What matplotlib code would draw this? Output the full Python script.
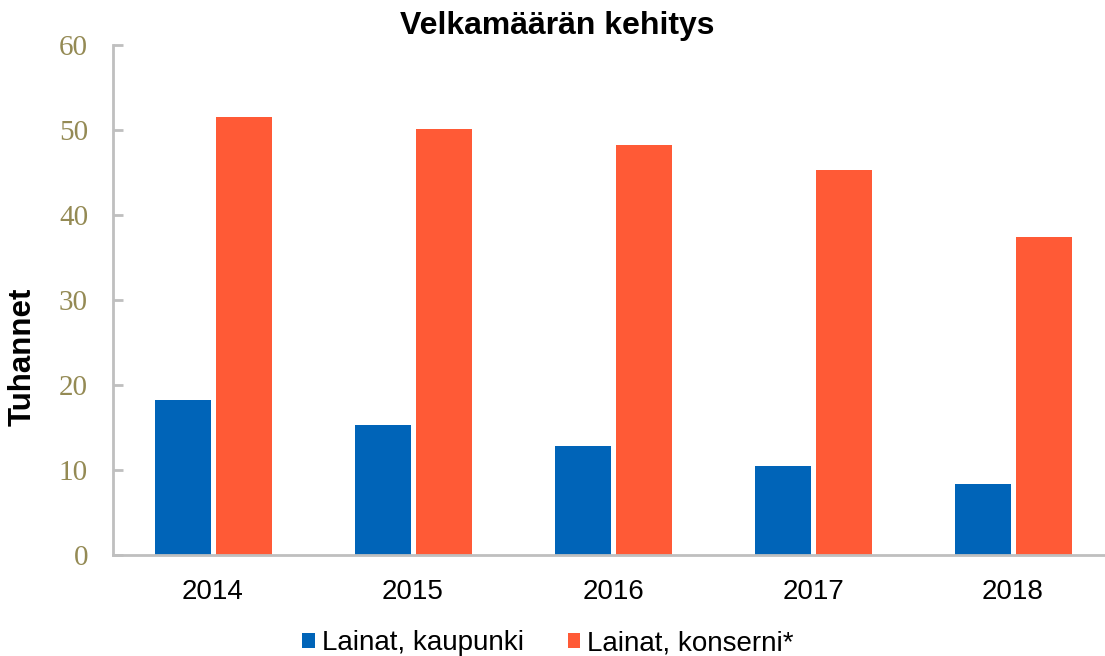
import matplotlib
matplotlib.use("Agg")
import matplotlib.pyplot as plt
import numpy as np

years = ["2014", "2015", "2016", "2017", "2018"]
kaupunki = [18.2, 15.3, 12.8, 10.5, 8.3]
konserni = [51.5, 50.1, 48.2, 45.3, 37.4]
series_names = ["Lainat, kaupunki", "Lainat, konserni*"]
yticks = [0, 10, 20, 30, 40, 50, 60]

W, H = 1105, 656
fig = plt.figure(figsize=(W / 100, H / 100), dpi=100)
ax = fig.add_axes([113 / W, (H - 555) / H, 1000 / W, 510 / H])

x = np.arange(len(years))
bw = 0.28
off = 0.1525
b1 = ax.bar(x - off, kaupunki, bw, color="#0064B8", label=series_names[0])
b2 = ax.bar(x + off, konserni, bw, color="#FF5A36", label=series_names[1])

ax.set_xlim(-0.5, 4.5)
ax.set_ylim(0, 60)
ax.set_yticks(yticks)
ax.set_yticklabels([str(t) for t in yticks], family="Liberation Serif", fontsize=21, color="#948A54")
ax.set_xticks(x)
ax.set_xticklabels(years, family="Liberation Sans", fontsize=20, color="black")
ax.tick_params(axis="y", direction="in", length=7, width=2, color="#BFBFBF", pad=18)
ax.tick_params(axis="x", length=0, pad=17)
for s in ["top", "right"]:
    ax.spines[s].set_visible(False)
for s in ["left", "bottom"]:
    ax.spines[s].set_color("#BFBFBF")
    ax.spines[s].set_linewidth(2)

fig.text(557 / W, 1 - 26 / H, "Velkamäärän kehitys", ha="center", va="center",
         family="Liberation Sans", fontweight="bold", fontsize=23)
fig.text(23 / W, 1 - 357 / H, "Tuhannet", ha="center", va="center", rotation=90,
         family="Liberation Sans", fontweight="bold", fontsize=22.5)

fig.legend(handles=[b1, b2], loc="center", bbox_to_anchor=(548 / W, 1 - 643 / H), ncol=2,
           frameon=False, prop={"family": "Liberation Sans", "size": 20},
           handlelength=0.45, handleheight=0.45, handletextpad=0.25, columnspacing=1.6)

fig.savefig("out.png", dpi=100)
